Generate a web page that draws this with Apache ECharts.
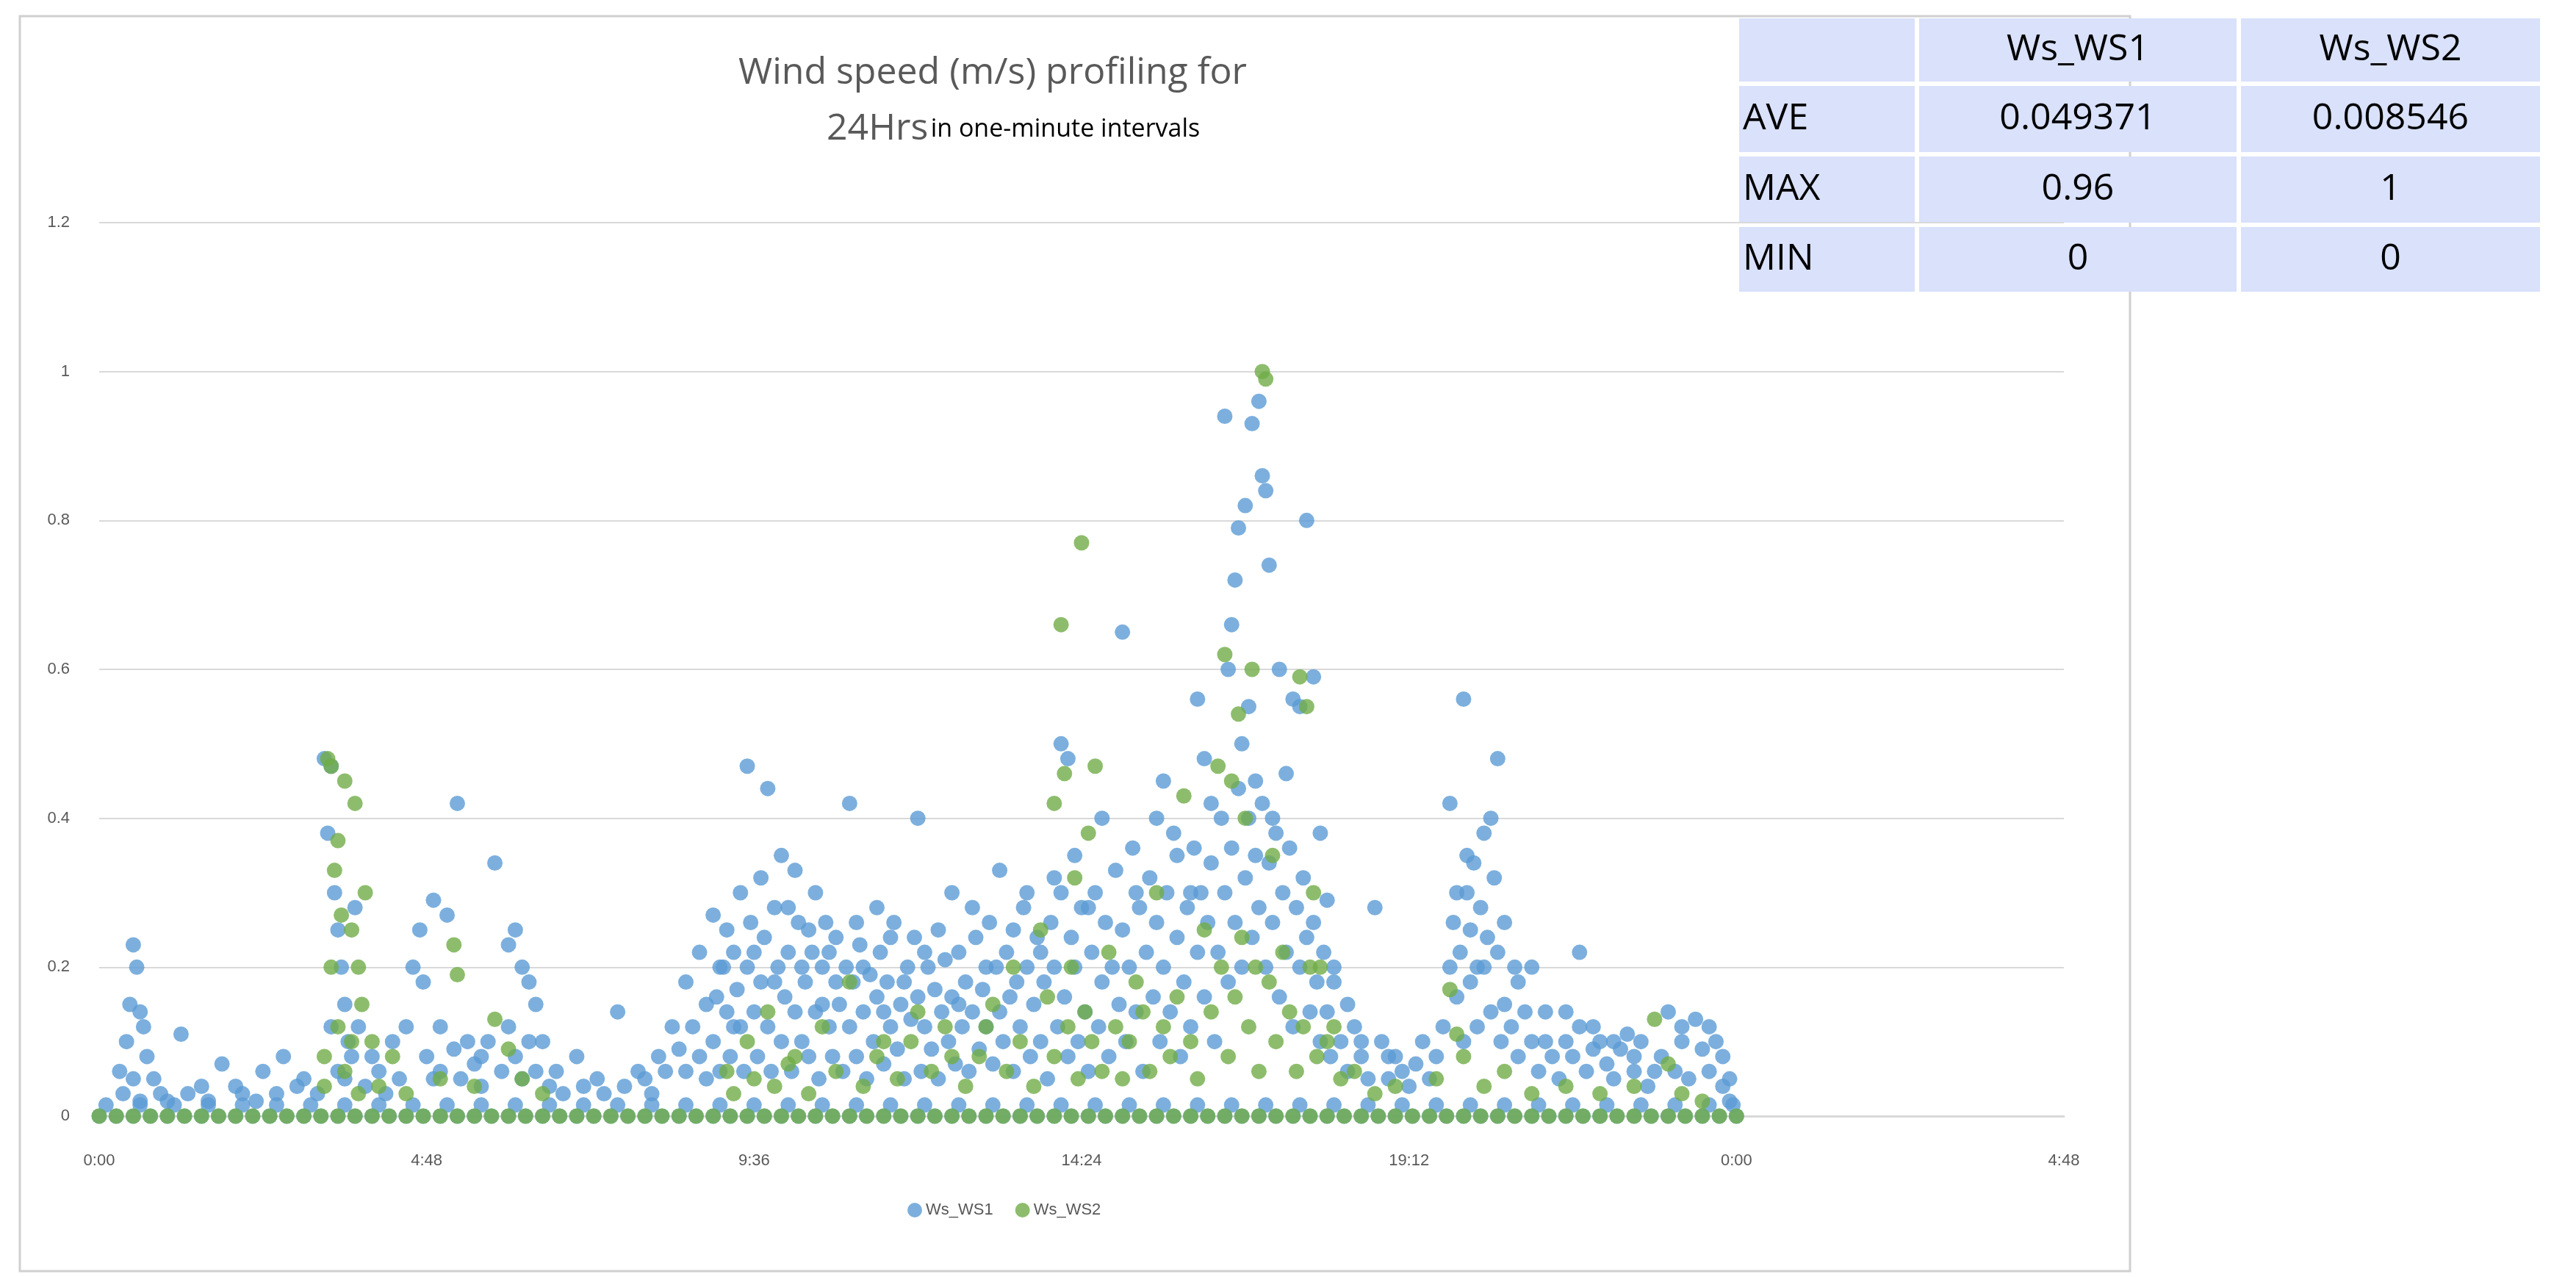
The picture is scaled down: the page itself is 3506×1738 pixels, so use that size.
<!DOCTYPE html>
<html><head><meta charset="utf-8">
<script src="https://cdn.jsdelivr.net/npm/echarts@6/dist/echarts.min.js"></script>
<style>html,body{margin:0;padding:0;background:#fff}#main{width:3506px;height:1738px}</style>
</head><body><div id="main"></div>
<script>
// times in hours (0-24), values in m/s
var ws1Points = [
 [0.3,0.06],[0.4,0.1],[0.45,0.15],[0.5,0.23],[0.55,0.2],[0.6,0.14],[0.65,0.12],[0.7,0.08],[0.8,0.05],[1.2,0.11],[1.5,0.04],[1.8,0.07],
 [2.1,0.03],[2.4,0.06],[2.7,0.08],[3.0,0.05],[3.3,0.48],[3.35,0.38],[3.4,0.47],[3.45,0.3],[3.5,0.25],[3.55,0.2],[3.6,0.15],[3.65,0.1],
 [3.75,0.28],[3.8,0.12],[4.0,0.08],[4.3,0.1],[4.6,0.2],[4.7,0.25],[4.75,0.18],[4.9,0.29],[5.0,0.12],[5.1,0.27],[5.25,0.42],[5.4,0.1],
 [5.6,0.08],[5.8,0.34],[6.0,0.23],[6.1,0.25],[6.2,0.2],[6.3,0.18],[6.4,0.15],[6.5,0.1],[6.7,0.06],[7.0,0.08],[7.3,0.05],[7.6,0.14],
 [7.9,0.06],[8.2,0.08],[8.4,0.12],[8.6,0.18],[8.8,0.22],[8.9,0.15],[9.0,0.27],[9.1,0.2],[9.2,0.25],[9.3,0.12],[9.4,0.3],[9.5,0.47],
 [9.6,0.22],[9.7,0.32],[9.8,0.44],[9.9,0.18],[10.0,0.35],[10.1,0.28],[10.2,0.33],[10.3,0.2],[10.4,0.25],[10.5,0.3],[10.6,0.15],[10.7,0.22],
 [10.8,0.18],[11.0,0.42],[11.1,0.26],[11.2,0.2],[11.4,0.28],[11.5,0.14],[11.6,0.24],[11.8,0.18],[12.0,0.4],[12.1,0.22],[12.3,0.25],[12.5,0.3],
 [12.6,0.15],[12.8,0.28],[13.0,0.2],[13.2,0.33],[13.4,0.25],[13.6,0.3],[13.8,0.22],[14.0,0.32],[14.1,0.5],[14.2,0.48],[14.3,0.35],[14.5,0.28],
 [14.7,0.4],[15.0,0.65],[15.2,0.3],[15.5,0.4],[15.6,0.45],[15.8,0.35],[16.0,0.3],[16.1,0.56],[16.2,0.48],[16.3,0.42],[16.5,0.94],[16.55,0.6],
 [16.6,0.66],[16.65,0.72],[16.7,0.79],[16.75,0.5],[16.8,0.82],[16.85,0.55],[16.9,0.93],[16.95,0.45],[17.0,0.96],[17.05,0.86],[17.1,0.84],[17.15,0.74],
 [17.2,0.4],[17.3,0.6],[17.4,0.46],[17.5,0.56],[17.6,0.55],[17.7,0.8],[17.8,0.59],[17.9,0.38],[18.0,0.29],[18.1,0.2],[18.3,0.15],[18.5,0.1],
 [18.7,0.28],[18.9,0.08],[19.1,0.06],[19.4,0.1],[19.6,0.08],[19.8,0.42],[19.9,0.3],[20.0,0.56],[20.05,0.35],[20.1,0.25],[20.2,0.2],[20.3,0.38],
 [20.4,0.4],[20.5,0.48],[20.6,0.15],[20.8,0.18],[21.0,0.2],[21.2,0.1],[21.5,0.14],[21.7,0.22],[21.9,0.12],[22.2,0.1],[22.5,0.08],[22.8,0.06],
 [23.0,0.14],[23.2,0.1],[23.4,0.13],[23.6,0.12],[23.8,0.08],[23.9,0.05]
];
// the dense cloud below ~0.3, read region by region
var ws1Cloud = [
 [0.35,0.03],[0.5,0.05],[0.6,0.02],[0.9,0.03],[1.0,0.02],[1.3,0.03],[1.6,0.02],[2.0,0.04],[2.3,0.02],[2.6,0.03],[2.9,0.04],[3.2,0.03],
 [3.4,0.12],[3.5,0.06],[3.6,0.05],[3.7,0.08],[3.9,0.04],[4.1,0.06],[4.2,0.03],[4.4,0.05],[4.5,0.12],[4.8,0.08],[4.9,0.05],[5.0,0.06],
 [5.2,0.09],[5.3,0.05],[5.5,0.07],[5.6,0.04],[5.7,0.1],[5.9,0.06],[6.0,0.12],[6.1,0.08],[6.2,0.05],[6.3,0.1],[6.4,0.06],[6.6,0.04],
 [6.8,0.03],[7.1,0.04],[7.4,0.03],[7.7,0.04],[8.0,0.05],[8.1,0.03],[8.3,0.06],[8.5,0.09],[8.6,0.06],[8.7,0.12],[8.8,0.08],[8.9,0.05],
 [9.0,0.1],[9.05,0.16],[9.1,0.06],[9.15,0.2],[9.2,0.14],[9.25,0.08],[9.3,0.22],[9.35,0.17],[9.4,0.12],[9.45,0.06],[9.5,0.2],[9.55,0.26],
 [9.6,0.14],[9.65,0.08],[9.7,0.18],[9.75,0.24],[9.8,0.12],[9.85,0.06],[9.9,0.28],[9.95,0.2],[10.0,0.1],[10.05,0.16],[10.1,0.22],[10.15,0.06],
 [10.2,0.14],[10.25,0.26],[10.3,0.1],[10.35,0.18],[10.4,0.08],[10.45,0.22],[10.5,0.14],[10.55,0.05],[10.6,0.2],[10.65,0.26],[10.7,0.12],[10.75,0.08],
 [10.8,0.24],[10.85,0.15],[10.9,0.06],[10.95,0.2],[11.0,0.12],[11.05,0.18],[11.1,0.08],[11.15,0.23],[11.2,0.14],[11.25,0.05],[11.3,0.19],[11.35,0.1],
 [11.4,0.16],[11.45,0.22],[11.5,0.07],[11.55,0.18],[11.6,0.12],[11.65,0.26],[11.7,0.09],[11.75,0.15],[11.8,0.05],[11.85,0.2],[11.9,0.13],[11.95,0.24],
 [12.0,0.16],[12.05,0.06],[12.1,0.12],[12.15,0.2],[12.2,0.09],[12.25,0.17],[12.3,0.05],[12.35,0.14],[12.4,0.21],[12.45,0.1],[12.5,0.16],[12.55,0.07],
 [12.6,0.22],[12.65,0.12],[12.7,0.18],[12.75,0.06],[12.8,0.14],[12.85,0.24],[12.9,0.09],[12.95,0.17],[13.0,0.12],[13.05,0.26],[13.1,0.07],[13.15,0.2],
 [13.2,0.14],[13.25,0.1],[13.3,0.22],[13.35,0.16],[13.4,0.06],[13.45,0.18],[13.5,0.12],[13.55,0.28],[13.6,0.2],[13.65,0.08],[13.7,0.15],[13.75,0.24],
 [13.8,0.1],[13.85,0.18],[13.9,0.05],[13.95,0.26],[14.0,0.2],[14.05,0.12],[14.1,0.3],[14.15,0.16],[14.2,0.08],[14.25,0.24],[14.3,0.2],[14.35,0.1],
 [14.4,0.28],[14.45,0.14],[14.5,0.06],[14.55,0.22],[14.6,0.3],[14.65,0.12],[14.7,0.18],[14.75,0.26],[14.8,0.08],[14.85,0.2],[14.9,0.33],[14.95,0.15],
 [15.0,0.25],[15.05,0.1],[15.1,0.2],[15.15,0.36],[15.2,0.14],[15.25,0.28],[15.3,0.06],[15.35,0.22],[15.4,0.32],[15.45,0.16],[15.5,0.26],[15.55,0.1],
 [15.6,0.2],[15.65,0.3],[15.7,0.14],[15.75,0.38],[15.8,0.24],[15.85,0.08],[15.9,0.18],[15.95,0.28],[16.0,0.12],[16.05,0.36],[16.1,0.22],[16.15,0.3],
 [16.2,0.16],[16.25,0.26],[16.3,0.34],[16.35,0.1],[16.4,0.22],[16.45,0.4],[16.5,0.3],[16.55,0.18],[16.6,0.36],[16.65,0.26],[16.7,0.44],[16.75,0.2],
 [16.8,0.32],[16.85,0.4],[16.9,0.24],[16.95,0.35],[17.0,0.28],[17.05,0.42],[17.1,0.2],[17.15,0.34],[17.2,0.26],[17.25,0.38],[17.3,0.16],[17.35,0.3],
 [17.4,0.22],[17.45,0.36],[17.5,0.12],[17.55,0.28],[17.6,0.2],[17.65,0.32],[17.7,0.24],[17.75,0.14],[17.8,0.26],[17.85,0.18],[17.9,0.1],[17.95,0.22],
 [18.0,0.14],[18.05,0.08],[18.1,0.18],[18.2,0.1],[18.3,0.06],[18.4,0.12],[18.5,0.08],[18.6,0.05],[18.8,0.1],[18.9,0.05],[19.0,0.08],[19.2,0.04],
 [19.3,0.07],[19.5,0.05],[19.7,0.12],[19.8,0.2],[19.85,0.26],[19.9,0.16],[19.95,0.22],[20.0,0.1],[20.05,0.3],[20.1,0.18],[20.15,0.34],[20.2,0.12],
 [20.25,0.28],[20.3,0.2],[20.35,0.24],[20.4,0.14],[20.45,0.32],[20.5,0.22],[20.55,0.1],[20.6,0.26],[20.7,0.12],[20.75,0.2],[20.8,0.08],[20.9,0.14],
 [21.0,0.1],[21.1,0.06],[21.2,0.14],[21.3,0.08],[21.4,0.05],[21.5,0.1],[21.6,0.08],[21.7,0.12],[21.8,0.06],[21.9,0.09],[22.0,0.1],[22.1,0.07],
 [22.2,0.05],[22.3,0.09],[22.4,0.11],[22.5,0.06],[22.6,0.1],[22.7,0.04],[22.9,0.08],[23.1,0.06],[23.2,0.12],[23.3,0.05],[23.5,0.09],[23.6,0.06],
 [23.7,0.1],[23.8,0.04],[23.9,0.02]
];
var ws2Points = [
 [3.3,0.08],[3.35,0.48],[3.4,0.47],[3.45,0.33],[3.5,0.37],[3.55,0.27],[3.6,0.45],[3.7,0.25],[3.75,0.42],[3.8,0.2],[3.85,0.15],[3.9,0.3],
 [4.0,0.1],[4.3,0.08],[5.2,0.23],[5.25,0.19],[5.8,0.13],[6.0,0.09],[9.2,0.06],[9.5,0.1],[9.8,0.14],[10.2,0.08],[10.6,0.12],[11.0,0.18],
 [11.5,0.1],[12.0,0.14],[12.5,0.08],[13.0,0.12],[13.4,0.2],[13.8,0.25],[14.0,0.42],[14.1,0.66],[14.15,0.46],[14.3,0.32],[14.4,0.77],[14.5,0.38],
 [14.6,0.47],[14.8,0.22],[15.2,0.18],[15.5,0.3],[15.9,0.43],[16.2,0.25],[16.4,0.47],[16.5,0.62],[16.6,0.45],[16.7,0.54],[16.8,0.4],[16.9,0.6],
 [17.05,1.0],[17.1,0.99],[17.2,0.35],[17.6,0.59],[17.7,0.55],[17.8,0.3],[17.9,0.2],[18.1,0.12],[19.8,0.17],[19.9,0.11],[22.8,0.13],[23.0,0.07]
];
var ws2Cloud = [
 [3.3,0.04],[3.4,0.2],[3.5,0.12],[3.6,0.06],[3.7,0.1],[3.8,0.03],[4.1,0.04],[4.5,0.03],[5.0,0.05],[5.5,0.04],[6.2,0.05],[6.5,0.03],
 [9.3,0.03],[9.6,0.05],[9.9,0.04],[10.1,0.07],[10.4,0.03],[10.8,0.06],[11.2,0.04],[11.4,0.08],[11.7,0.05],[11.9,0.1],[12.2,0.06],[12.4,0.12],
 [12.7,0.04],[12.9,0.08],[13.1,0.15],[13.3,0.06],[13.5,0.1],[13.7,0.04],[13.9,0.16],[14.0,0.08],[14.2,0.12],[14.25,0.2],[14.35,0.05],[14.45,0.14],
 [14.55,0.1],[14.7,0.06],[14.9,0.12],[15.0,0.05],[15.1,0.1],[15.3,0.14],[15.4,0.06],[15.6,0.12],[15.7,0.08],[15.8,0.16],[16.0,0.1],[16.1,0.05],
 [16.3,0.14],[16.45,0.2],[16.55,0.08],[16.65,0.16],[16.75,0.24],[16.85,0.12],[16.95,0.2],[17.0,0.06],[17.15,0.18],[17.25,0.1],[17.35,0.22],[17.45,0.14],
 [17.55,0.06],[17.65,0.12],[17.75,0.2],[17.85,0.08],[18.0,0.1],[18.2,0.05],[18.4,0.06],[18.7,0.03],[19.0,0.04],[19.6,0.05],[20.0,0.08],[20.3,0.04],
 [20.6,0.06],[21.0,0.03],[21.5,0.04],[22.0,0.03],[22.5,0.04],[23.2,0.03],[23.5,0.02]
];
// every 15 minutes there is a zero reading; both series sit on the zero line
var zeroTimes = [0,0.25,0.5,0.75,1,1.25,1.5,1.75,2,2.25,2.5,2.75,3,3.25,3.5,3.75,4,4.25,4.5,4.75,5,5.25,5.5,5.75,6,6.25,6.5,6.75,7,7.25,7.5,7.75,8,8.25,8.5,8.75,9,9.25,9.5,9.75,10,10.25,10.5,10.75,11,11.25,11.5,11.75,12,12.25,12.5,12.75,13,13.25,13.5,13.75,14,14.25,14.5,14.75,15,15.25,15.5,15.75,16,16.25,16.5,16.75,17,17.25,17.5,17.75,18,18.25,18.5,18.75,19,19.25,19.5,19.75,20,20.25,20.5,20.75,21,21.25,21.5,21.75,22,22.25,22.5,22.75,23,23.25,23.5,23.75,24];
// near-zero readings of Ws_WS1 forming the thin blue band above the line
var ws1LowTimes = [0.1,0.6,1.1,1.6,2.1,2.6,3.1,3.6,4.1,4.6,5.1,5.6,6.1,6.6,7.1,7.6,8.1,8.6,9.1,9.6,10.1,10.6,11.1,11.6,12.1,12.6,13.1,13.6,14.1,14.6,15.1,15.6,16.1,16.6,17.1,17.6,18.1,18.6,19.1,19.6,20.1,20.6,21.1,21.6,22.1,22.6,23.1,23.6,23.95];
var ws1LowValue = 0.015;
var statRows = ['AVE','MAX','MIN'];
var statWs1 = ['0.049371','0.96','0'];
var statWs2 = ['0.008546','1','0'];

function toDays(p){ return [p[0]/24, p[1]]; }
var ws1 = ws1Points.concat(ws1Cloud).map(toDays)
  .concat(ws1LowTimes.map(function(t){return [t/24, ws1LowValue];}))
  .concat(zeroTimes.map(function(t){return [t/24,0];}));
var ws2 = ws2Points.concat(ws2Cloud).map(toDays).concat(zeroTimes.map(function(t){return [t/24,0];}));

// table drawn as graphic
var tx = [2364, 2609, 3047, 3460], ty = [22, 114, 210, 306, 400];
var tableEls = [];
var cells = [['', 'Ws_WS1', 'Ws_WS2']];
statRows.forEach(function(r, i){ cells.push([r, statWs1[i], statWs2[i]]); });
cells.forEach(function(row, ri){
  row.forEach(function(txt, ci){
    tableEls.push({type:'rect', shape:{x:tx[ci]+3, y:ty[ri]+3, width:tx[ci+1]-tx[ci]-6, height:ty[ri+1]-ty[ri]-6},
      style:{fill:'#d9e1fb'}});
    tableEls.push({type:'text', style:{text:txt, x: ci===0 ? tx[0]+8 : (tx[ci]+tx[ci+1])/2, y:(ty[ri]+ty[ri+1])/2,
      align: ci===0 ? 'left' : 'center', verticalAlign:'middle', font:'500 50px "Open Sans", sans-serif', fill:'#000'}});
  });
});

var chart = echarts.init(document.getElementById('main'));
chart.setOption({
  backgroundColor:'#fff',
  animation:false,
  title:{
    text:'Wind speed (m/s) profiling for',
    subtext:'{big|24Hrs} {small|in one-minute intervals}',
    left:1000, top:70, itemGap:26,
    textStyle:{fontSize:50, fontWeight:'normal', color:'#595959', fontFamily:'"Open Sans", sans-serif'},
    subtextStyle:{rich:{big:{fontSize:50, color:'#595959', fontFamily:'"Open Sans", sans-serif', padding:[0,0,0,120]},
      small:{fontSize:34, color:'#000', fontFamily:'"Open Sans", sans-serif'}}}
  },
  legend:{bottom:75, left:1230, itemWidth:20, itemHeight:20, itemGap:30,
    textStyle:{fontSize:22, color:'#595959'}, data:['Ws_WS1','Ws_WS2']},
  grid:{left:135, right:3506-2809, top:303, bottom:1738-1519},
  xAxis:{type:'value', min:0, max:1.2, interval:0.2,
    axisLine:{lineStyle:{color:'#d9d9d9', width:3}}, axisTick:{show:false}, splitLine:{show:false},
    axisLabel:{fontSize:22, color:'#595959', margin:50, formatter:function(v){
      var m = Math.round(v*1440) % 1440; var h = Math.floor(m/60), mm = m%60;
      return h + ':' + (mm<10?'0':'') + mm; }}},
  yAxis:{type:'value', min:0, max:1.2, interval:0.2,
    axisLine:{show:false}, axisTick:{show:false},
    splitLine:{lineStyle:{color:'#d9d9d9', width:2}},
    axisLabel:{fontSize:22, color:'#595959', margin:40}},
  graphic:[{type:'rect', shape:{x:27, y:22, width:2872, height:1708}, style:{fill:'none', stroke:'#d0d0d0', lineWidth:3}, z:-1}].concat(tableEls),
  series:[
    {name:'Ws_WS1', type:'scatter', symbolSize:21, data:ws1, itemStyle:{color:'#5b9bd5'}},
    {name:'Ws_WS2', type:'scatter', symbolSize:21, data:ws2, itemStyle:{color:'#70ad47'}}
  ]
});
</script></body></html>
